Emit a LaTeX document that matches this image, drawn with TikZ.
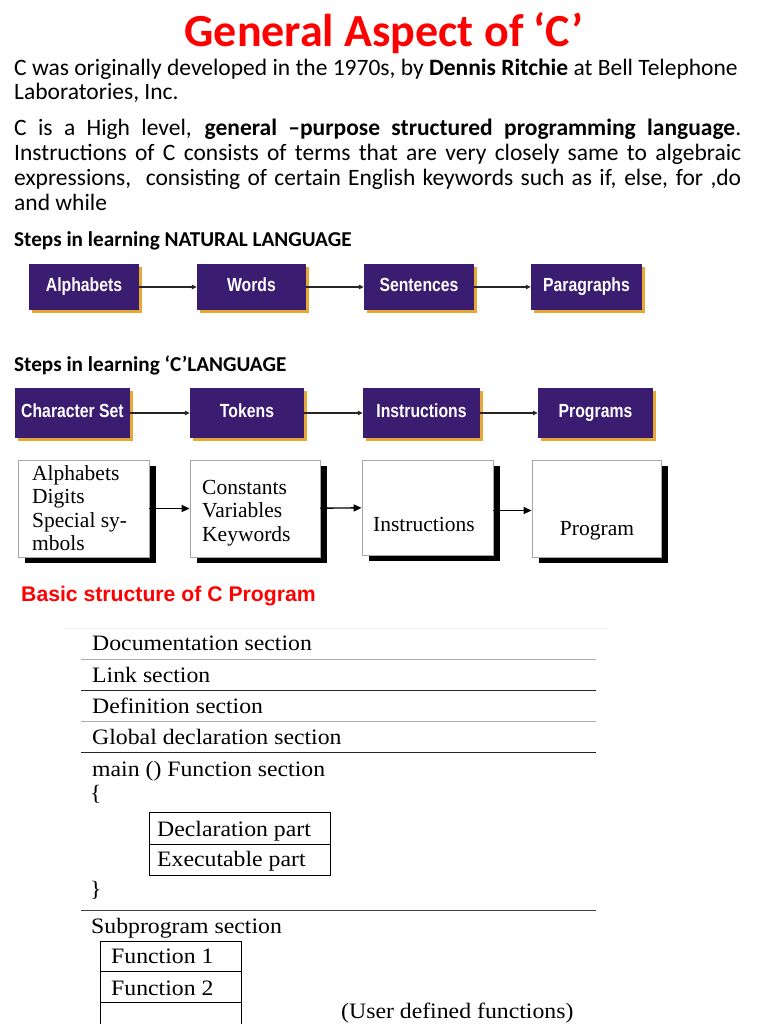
\documentclass[tikz,border=0pt]{standalone}
\usepackage{fontspec}
\setmainfont{Carlito}
\newfontfamily\arialf{Liberation Sans}
\newfontfamily\narrowf[FakeStretch=0.83]{Liberation Sans}
\newfontfamily\timesf{Liberation Serif}
\newfontfamily\garf[FakeStretch=1.08]{Liberation Serif}
\usetikzlibrary{arrows.meta,shadows}
\definecolor{purp}{RGB}{58,28,112}
\definecolor{gold}{RGB}{232,168,52}
\definecolor{tred}{RGB}{255,0,0}
\begin{document}
\begin{tikzpicture}[x=1pt,y=-1pt,
  body/.style={anchor=base west,inner sep=0pt,font=\fontsize{23.5}{25}\selectfont},
  head/.style={anchor=base west,inner sep=0pt,font=\bfseries\fontsize{21.2}{24}\selectfont},
  pbox/.style={fill=purp,text=white,minimum height=#1,inner sep=0pt,
    text height=13.5pt,text depth=4pt,
    font=\narrowf\bfseries\fontsize{19}{21}\selectfont,
    drop shadow={fill=gold,opacity=1,shadow xshift=3pt,shadow yshift=-3pt}},
  wbox/.style={draw=gray!70,line width=0.8pt,fill=white,minimum height=97pt,inner sep=0pt,
    drop shadow={fill=black,opacity=1,shadow xshift=7pt,shadow yshift=-6pt}},
  wtxt/.style={inner sep=0pt,font=\timesf\fontsize{21.5}{23.5}\selectfont},
  parr/.style={draw=black!85,line width=1.2pt,-{Triangle[length=5pt,width=4.5pt]}},
  warr/.style={draw=black,line width=1.4pt,-{Triangle[length=8pt,width=7pt]}},
  ttxt/.style={anchor=base west,inner sep=0pt,font=\garf\fontsize{22}{26}\selectfont},
  rule/.style={line width=1pt}
]
\useasboundingbox (0,0) rectangle (768,1024);
\fill[white] (0,0) rectangle (768,1024);

% title and text
\node[anchor=base,inner sep=0pt,text=tred,font=\bfseries\fontsize{46}{50}\selectfont] (title) at (384,47) {General Aspect of ‘C’};
\node[body] (p1a) at (14,76) {C was originally developed in the 1970s, by \textbf{Dennis Ritchie} at Bell Telephone};
\node[body] (p1b) at (14,100) {Laboratories, Inc.};
\node[body] (p2a) at (14,136) {\hbox to 727pt{C is a High level, \textbf{general –purpose structured programming language}.}};
\node[body] (p2b) at (14,161) {\hbox to 727pt{Instructions of C consists of terms that are very closely same to algebraic}};
\node[body] (p2c) at (14,186) {\hbox to 727pt{expressions,\ \ consisting of certain English keywords such as if, else, for ,do}};
\node[body] (p2d) at (14,211) {and while};

\node[head] (h1) at (14,246) {Steps in learning NATURAL LANGUAGE};

% natural language row
\node[pbox=46pt,minimum width=110pt] (n1) at (84,287) {Alphabets};
\node[pbox=46pt,minimum width=109pt] (n2) at (251.5,287) {Words};
\node[pbox=46pt,minimum width=110pt] (n3) at (419,287) {Sentences};
\node[pbox=46pt,minimum width=111pt] (n4) at (586.5,287) {Paragraphs};
\draw[parr] (n1) -- (n2);
\draw[parr] (n2) -- (n3);
\draw[parr] (n3) -- (n4);

\node[head] (h2) at (14,371) {Steps in learning ‘C’LANGUAGE};

% C language row
\node[pbox=50pt,minimum width=115pt] (c1) at (72.5,413) {Character Set};
\node[pbox=50pt,minimum width=114pt] (c2) at (247,413) {Tokens};
\node[pbox=50pt,minimum width=117pt] (c3) at (421.5,413) {Instructions};
\node[pbox=50pt,minimum width=115pt] (c4) at (595.5,413) {Programs};
\draw[parr] (c1) -- (c2);
\draw[parr] (c2) -- (c3);
\draw[parr] (c3) -- (c4);

% white boxes row
\node[wbox,minimum width=131pt] (b1) at (83.5,508.5) {};
\node[wbox,minimum width=130pt] (b2) at (255,508.5) {};
\node[wbox,minimum width=131pt,minimum height=95pt] (b3) at (427.5,507.5) {};
\node[wbox,minimum width=129pt] (b4) at (596.5,508.5) {};
\node[wtxt,anchor=base west] (b1t) at (32,480) {\parbox[t]{112pt}{Alphabets\\Digits\\Special sy-\\mbols}};
\node[wtxt,anchor=base west] (b2t) at (202,494) {\parbox[t]{112pt}{Constants\\Variables\\Keywords}};
\node[wtxt,anchor=base west] (b3t) at (373,531) {Instructions};
\node[wtxt,anchor=base] (b4t) at (597,535) {Program};
\draw[warr] (b1) -- (b2);
\draw[warr] (b2) -- (b3);
\draw[warr] ([yshift=-3pt]b3.east) -- ([yshift=-3pt]b3.east -| b4.west);

% basic structure
\node[anchor=base west,inner sep=0pt,text=tred,font=\arialf\bfseries\fontsize{21.2}{24}\selectfont] (h3) at (21,601) {Basic structure of C Program};

\draw[gray!12,line width=1pt] (64,628) -- (607,628);
\node[ttxt] (t1) at (92,650) {Documentation section};
\draw[rule,gray!65] (81,659) -- (596,659);
\node[ttxt] (t2) at (92,682) {Link section};
\draw[rule,black!85] (81,690) -- (596,690);
\node[ttxt] (t3) at (92,713) {Definition section};
\draw[rule,gray!65] (81,721) -- (596,721);
\node[ttxt] (t4) at (92,744) {Global declaration section};
\draw[rule,black!85] (81,752) -- (596,752);
\node[ttxt] (t5) at (92,776) {main () Function section};
\node[ttxt] (t6) at (90,800) {\{};
\draw[line width=0.9pt] (149,812) rectangle (330,875) (149,844) -- (330,844);
\node[ttxt] (t7) at (157,836) {Declaration part};
\node[ttxt] (t8) at (157,866) {Executable part};
\node[ttxt] (t9) at (90,896) {\}};
\draw[rule,black!75] (81,910) -- (596,910);
\node[ttxt] (t10) at (91,933) {Subprogram section};
\draw[line width=0.9pt] (100,1030) -- (100,941) -- (241,941) -- (241,1030) (100,971) -- (241,971) (100,1002) -- (241,1002);
\node[ttxt] (t11) at (111,963) {Function 1};
\node[ttxt] (t12) at (111,995) {Function 2};
\node[ttxt] (t13) at (341,1018) {(User defined functions)};
\end{tikzpicture}
\end{document}
